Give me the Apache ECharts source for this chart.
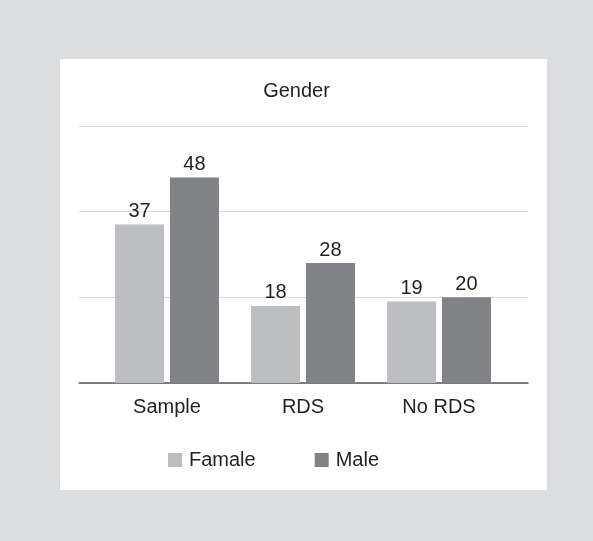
<!DOCTYPE html>
<html>
<head>
<meta charset="utf-8">
<script src="https://cdn.jsdelivr.net/npm/echarts@6/dist/echarts.min.js"></script>
<style>
html,body{margin:0;padding:0;background:#dcdddf;}
#c{width:593px;height:541px;}
</style>
</head>
<body>
<div id="c"></div>
<script>
var categories = ['Sample', 'RDS', 'No RDS'];
var seriesNames = ['Famale', 'Male'];
var femaleValues = [37, 18, 19];
var maleValues = [48, 28, 20];
var yTicks = [0, 20, 40, 60];

var FONT = '"Liberation Sans", Arial, Helvetica, sans-serif';
var chart = echarts.init(document.getElementById('c'), null, {renderer: 'canvas'});
var labelStyle = {show: true, position: 'top', distance: 3, color: '#231f20', fontSize: 20, fontFamily: FONT};

chart.setOption({
  backgroundColor: '#dcdddf',
  animation: false,
  graphic: [{
    type: 'rect', z: -10, silent: true,
    shape: {x: 60, y: 59, width: 487, height: 431},
    style: {fill: '#ffffff'}
  }],
  title: {
    text: 'Gender', left: 'center', top: 76,
    textStyle: {fontFamily: FONT, fontSize: 20, fontWeight: 'normal', color: '#231f20'}
  },
  legend: {
    data: seriesNames, left: 168, top: 450, icon: 'rect', padding: 0,
    itemWidth: 14, itemHeight: 14, itemGap: 59,
    textStyle: {fontFamily: FONT, fontSize: 20, color: '#231f20', padding: [0, 0, 0, 2]}
  },
  grid: [
    {left: 79, right: 65, top: 126, bottom: 158},
    {left: 99, right: 86, top: 126, bottom: 158}
  ],
  xAxis: [
    {type: 'category', gridIndex: 0, data: categories,
     axisLine: {show: true, lineStyle: {color: '#58595b', width: 1.5}},
     axisTick: {show: false}, axisLabel: {show: false}, splitLine: {show: false}},
    {type: 'category', gridIndex: 1, data: categories,
     axisLine: {show: false}, axisTick: {show: false},
     axisLabel: {color: '#231f20', fontSize: 20, fontFamily: FONT, margin: 14}}
  ],
  yAxis: [
    {type: 'value', gridIndex: 0, min: yTicks[0], max: yTicks[yTicks.length - 1], interval: 20,
     axisLine: {show: false}, axisTick: {show: false}, axisLabel: {show: false},
     splitLine: {show: true, lineStyle: {color: '#d9d9d9', width: 1.2}}},
    {type: 'value', gridIndex: 1, min: yTicks[0], max: yTicks[yTicks.length - 1], interval: 20,
     axisLine: {show: false}, axisTick: {show: false}, axisLabel: {show: false},
     splitLine: {show: false}}
  ],
  series: [
    {name: seriesNames[0], type: 'bar', xAxisIndex: 1, yAxisIndex: 1, data: femaleValues,
     barWidth: 49, barGap: '12%', itemStyle: {color: '#bcbec0'}, label: labelStyle, z: 3},
    {name: seriesNames[1], type: 'bar', xAxisIndex: 1, yAxisIndex: 1, data: maleValues,
     barWidth: 49, barGap: '12%', itemStyle: {color: '#808285'}, label: labelStyle, z: 3}
  ]
});
</script>
</body>
</html>
